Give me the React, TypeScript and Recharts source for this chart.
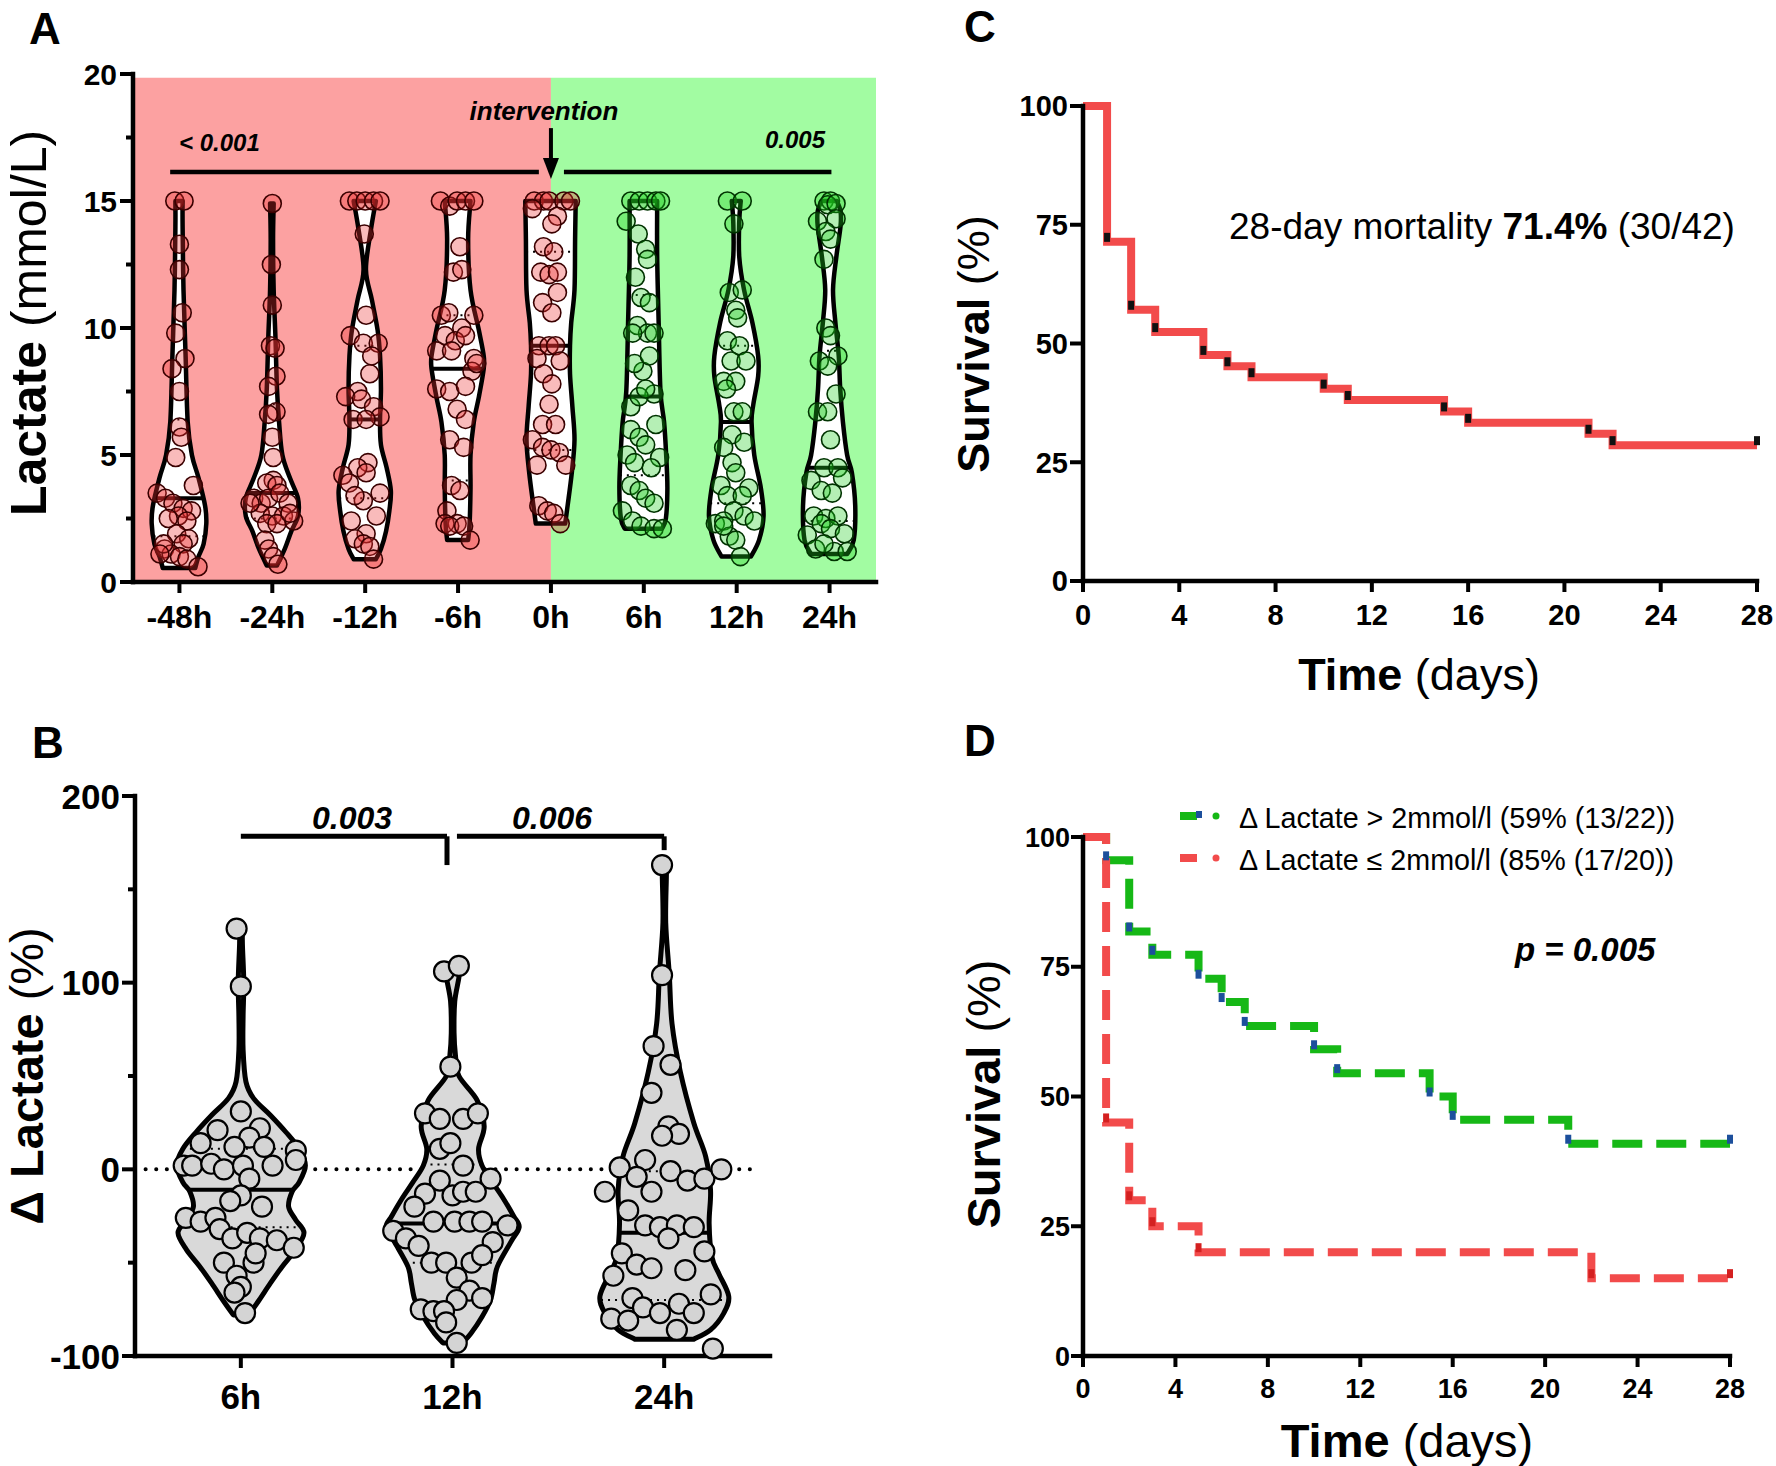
import React from 'react';
import {
  ComposedChart,
  Line,
  Bar,
  Scatter,
  XAxis,
  YAxis,
  ReferenceArea,
  ReferenceLine,
  ReferenceDot,
} from 'recharts';

const FONT = '"Liberation Sans", Arial, Helvetica, sans-serif';

// ---------------- Panel A data ----------------
const A_CATEGORIES = ['-48h', '-24h', '-12h', '-6h', '0h', '6h', '12h', '24h'];
const A_Y_TICKS = [0, 2.5, 5, 7.5, 10, 12.5, 15, 17.5, 20];
const A_Y_MAJOR = [0, 5, 10, 15, 20];
const A_MEDIAN = [3.3, 3.5, 6.4, 8.4, 9.3, 7.3, 6.3, 4.5];
const A_Q1 = [1.8, 2.5, 3.3, 4.0, 5.2, 4.2, 3.1, 2.4];
const A_Q3 = [6.4, 7.0, 9.3, 10.5, 13.0, 11.3, 9.3, 9.1];

// violin density profiles: [lactate value, relative half width]
const A_PROFILE_M48 = [[15, 0.12], [14, 0.12], [11.5, 0.15], [8.9, 0.22], [6.3, 0.29], [5.0, 0.43], [4.1, 0.65], [3.0, 0.87], [2.3, 0.91], [1.5, 0.82], [1.0, 0.65], [0.55, 0.54]];
const A_PROFILE_M24 = [[14.9, 0.06], [13.5, 0.04], [11.5, 0.06], [9.6, 0.12], [7.6, 0.17], [6.3, 0.24], [5.0, 0.35], [4.1, 0.6], [3.3, 0.87], [2.6, 0.87], [2.0, 0.65], [1.3, 0.43], [0.65, 0.17]];
const A_PROFILE_M12 = [[15, 0.37], [13.9, 0.21], [12.3, 0.04], [11.1, 0.24], [9.9, 0.43], [8.9, 0.51], [7.6, 0.54], [6.4, 0.51], [5.4, 0.54], [4.5, 0.73], [3.6, 0.87], [2.8, 0.82], [2.0, 0.71], [1.3, 0.54], [0.9, 0.37]];
const A_PROFILE_M6 = [[15, 0.43], [13.5, 0.35], [11.5, 0.43], [9.9, 0.71], [8.9, 0.87], [8.4, 0.87], [7.3, 0.71], [6.3, 0.54], [5.0, 0.43], [3.7, 0.43], [2.3, 0.4], [1.65, 0.35]];
const A_PROFILE_H0 = [[15, 0.84], [13.5, 0.82], [11.5, 0.8], [10.2, 0.69], [9.3, 0.65], [8.2, 0.65], [6.9, 0.73], [5.6, 0.8], [4.3, 0.71], [3.0, 0.57], [2.3, 0.49]];
const A_PROFILE_P6 = [[15, 0.46], [12.8, 0.46], [10.2, 0.51], [7.5, 0.57], [6.3, 0.69], [5.0, 0.76], [3.7, 0.8], [2.5, 0.75], [2.1, 0.62]];
const A_PROFILE_P12 = [[15, 0.15], [14.2, 0.1], [12.8, 0.1], [11.5, 0.26], [10.2, 0.54], [8.9, 0.73], [8.1, 0.73], [7.0, 0.57], [6.3, 0.51], [5.0, 0.6], [3.7, 0.82], [2.6, 0.91], [1.65, 0.76], [1.0, 0.49]];
const A_PROFILE_P24 = [[15, 0.26], [14.6, 0.38], [14.0, 0.38], [12.8, 0.24], [11.5, 0.13], [10.2, 0.21], [8.9, 0.32], [7.6, 0.37], [6.3, 0.46], [5.0, 0.6], [4.3, 0.76], [3.0, 0.87], [1.65, 0.82], [1.1, 0.6]];
const A_PROFILES = [A_PROFILE_M48, A_PROFILE_M24, A_PROFILE_M12, A_PROFILE_M6, A_PROFILE_H0, A_PROFILE_P6, A_PROFILE_P12, A_PROFILE_P24];

// individual points: [horizontal jitter (fraction of category), lactate]
const A_POINTS_M48 = [[-0.05, 15], [0.05, 15], [0, 13.3], [0, 12.3], [0.03, 10.6], [-0.04, 9.8], [0.06, 8.8], [-0.08, 8.4], [0, 7.5], [0, 6.1], [0.02, 5.7], [-0.04, 4.9], [0.15, 3.8], [-0.24, 3.5], [-0.15, 3.3], [-0.07, 3.1], [0.04, 2.9], [0.13, 2.8], [-0.01, 2.6], [-0.12, 2.5], [0.08, 2.4], [-0.03, 1.9], [0.1, 1.7], [0.04, 1.5], [-0.16, 1.3], [-0.09, 1.1], [0, 1.0], [0.08, 0.9], [0.2, 0.6], [-0.17, 1.5], [-0.21, 1.1]];
const A_POINTS_M24 = [[0, 14.9], [-0.01, 12.5], [0, 10.9], [-0.02, 9.3], [0.03, 9.2], [0.04, 8.1], [-0.04, 7.7], [0.04, 6.7], [-0.04, 6.6], [0, 5.7], [0.01, 4.9], [0.01, 4.0], [-0.06, 3.9], [0.05, 3.8], [-0.2, 3.3], [-0.12, 3.1], [-0.04, 3.3], [0.08, 3.5], [0.17, 3.1], [-0.13, 2.7], [0, 2.6], [0.12, 2.6], [0.23, 2.4], [-0.06, 2.3], [0.05, 2.3], [-0.08, 1.65], [-0.04, 1.3], [0.01, 1.0], [0.06, 0.7], [-0.24, 3.1], [0.19, 2.7]];
const A_POINTS_M12 = [[-0.17, 15], [-0.09, 15], [0, 15], [0.09, 15], [0.16, 15], [-0.01, 13.7], [0.01, 10.5], [-0.16, 9.7], [-0.02, 9.4], [0.14, 9.4], [0.07, 8.9], [0.05, 8.2], [-0.08, 7.5], [-0.21, 7.3], [-0.04, 7.2], [0.09, 6.9], [0.16, 6.5], [-0.13, 6.4], [0.01, 6.4], [0.03, 4.7], [-0.08, 4.5], [-0.24, 4.2], [0.01, 4.3], [-0.17, 3.9], [0.16, 3.5], [-0.02, 3.2], [-0.11, 3.4], [0.12, 2.6], [-0.15, 2.4], [0.01, 1.9], [-0.11, 1.7], [-0.02, 1.5], [0.05, 1.4], [0.09, 0.9]];
const A_POINTS_M6 = [[-0.19, 15], [-0.09, 14.8], [-0.01, 15], [0.08, 15], [0.17, 15], [0.02, 13.2], [-0.05, 12.2], [0.04, 12.3], [-0.18, 10.5], [-0.1, 10.6], [0.17, 10.5], [0.04, 10.0], [-0.14, 9.7], [-0.03, 9.5], [-0.23, 9.1], [0.08, 9.7], [-0.07, 9.1], [0.17, 8.8], [0.15, 8.3], [0.2, 8.6], [-0.23, 7.6], [-0.09, 7.5], [0.08, 7.7], [-0.01, 6.8], [0.08, 6.4], [-0.09, 5.6], [0.06, 5.3], [-0.07, 3.8], [0.02, 3.6], [-0.12, 2.8], [-0.01, 2.3], [-0.14, 2.3], [-0.09, 2.2], [0.06, 2.2], [0.13, 1.65]];
const A_POINTS_H0 = [[-0.18, 15], [-0.08, 15], [-0.02, 15], [0.14, 15], [0.21, 15], [-0.2, 14.7], [0.07, 14.4], [0.01, 14.1], [-0.08, 13.2], [0.03, 13.0], [-0.11, 12.2], [-0.02, 12.1], [0.07, 12.2], [0.07, 11.4], [-0.09, 11.0], [0.01, 10.6], [-0.13, 9.3], [-0.02, 9.3], [0.05, 9.3], [-0.15, 8.8], [0.1, 8.7], [-0.08, 8.2], [0.01, 7.8], [-0.02, 7.0], [-0.09, 6.2], [0.05, 6.2], [-0.2, 5.6], [-0.09, 5.3], [0, 5.2], [0.09, 5.1], [-0.15, 4.6], [0.16, 4.6], [-0.13, 3.0], [-0.04, 2.8], [0.03, 2.7], [0.1, 2.3]];
const A_POINTS_P6 = [[-0.14, 15], [-0.05, 15], [0.04, 15], [0.13, 15], [0.18, 15], [-0.19, 14.2], [-0.06, 13.7], [0.02, 13.1], [0.04, 12.7], [-0.09, 12.0], [-0.03, 11.2], [0.06, 11.0], [-0.07, 10.1], [0.04, 9.8], [0.11, 9.8], [-0.12, 9.8], [-0.01, 8.3], [-0.1, 8.6], [0.06, 8.9], [-0.14, 6.9], [0.11, 7.4], [-0.05, 7.3], [0.02, 7.6], [-0.14, 6.0], [-0.05, 5.7], [0.02, 5.4], [0.13, 6.2], [-0.18, 5.0], [-0.1, 4.7], [0.17, 4.9], [0.08, 4.5], [-0.14, 3.8], [-0.05, 3.6], [0.02, 3.3], [0.11, 3.1], [-0.23, 2.8], [-0.12, 2.4], [-0.03, 2.2], [0.11, 2.1], [0.2, 2.1]];
const A_POINTS_P12 = [[-0.1, 15], [0.06, 15], [-0.03, 14.1], [-0.08, 11.4], [0.06, 11.5], [-0.01, 10.7], [0.01, 10.4], [-0.1, 9.5], [0.03, 9.3], [-0.06, 8.7], [0.1, 8.7], [-0.14, 7.9], [-0.01, 7.9], [-0.11, 7.6], [-0.03, 6.7], [0.06, 6.7], [-0.05, 5.8], [0.08, 5.5], [-0.14, 5.3], [-0.05, 4.7], [-0.01, 4.3], [-0.17, 3.8], [0.13, 3.7], [-0.1, 3.4], [0.06, 3.4], [-0.03, 2.8], [0.08, 2.6], [0.19, 2.4], [-0.23, 2.3], [-0.14, 2.4], [-0.08, 1.8], [-0.01, 1.65], [-0.14, 2.2], [0.04, 1.0]];
const A_POINTS_P24 = [[-0.06, 15], [0.01, 15], [-0.02, 14.85], [0.07, 14.9], [-0.13, 14.2], [0.07, 14.3], [-0.04, 13.8], [0.01, 13.5], [-0.06, 12.7], [-0.04, 10.0], [0.01, 9.7], [-0.11, 8.7], [0.09, 8.9], [-0.02, 8.5], [0.07, 7.4], [-0.13, 6.7], [-0.02, 6.7], [0.01, 5.6], [-0.06, 4.5], [0.09, 4.5], [-0.2, 4.0], [-0.09, 3.6], [0.14, 4.1], [0.03, 3.5], [-0.17, 2.6], [-0.04, 2.5], [0.09, 2.6], [-0.09, 2.3], [0.01, 2.1], [-0.24, 1.85], [0.16, 1.9], [-0.15, 1.3], [0.05, 1.2], [0.19, 1.2], [-0.06, 1.5]];
const A_POINTS = [A_POINTS_M48, A_POINTS_M24, A_POINTS_M12, A_POINTS_M6, A_POINTS_H0, A_POINTS_P6, A_POINTS_P12, A_POINTS_P24];

// ---------------- Panel B data ----------------
const B_CATEGORIES = ['6h', '12h', '24h'];
const B_Y_TICKS = [-100, -50, 0, 50, 100, 150, 200];
const B_Y_MAJOR = [-100, 0, 100, 200];
const B_MEDIAN = [-11, -29, -34];
const B_Q1 = [-31, -50, -70];
const B_Q3 = [11, 2.6, -1];
const B_PROFILE_6 = [[131, 0.02], [121, 0.02], [100, 0.04], [82, 0.03], [64, 0.03], [47, 0.07], [38, 0.18], [29, 0.42], [20, 0.64], [11, 0.83], [2, 0.92], [-7, 0.83], [-12, 0.73], [-20, 0.68], [-27, 0.78], [-34, 0.9], [-43, 0.78], [-52, 0.59], [-61, 0.42], [-70, 0.26], [-78, 0.11]];
const B_PROFILE_12 = [[109, 0.09], [103, 0.09], [90, 0.03], [73, 0.02], [61, 0.04], [50, 0.09], [37, 0.35], [23, 0.45], [11, 0.37], [2, 0.42], [-7, 0.57], [-16, 0.73], [-25, 0.87], [-31, 0.95], [-39, 0.83], [-52, 0.64], [-61, 0.59], [-70, 0.54], [-79, 0.42], [-88, 0.26], [-93, 0.14]];
const B_PROFILE_24 = [[166, 0.02], [159, 0.03], [132, 0.02], [105, 0.07], [78, 0.11], [52, 0.23], [25, 0.42], [7, 0.59], [-11, 0.66], [-29, 0.64], [-47, 0.68], [-56, 0.78], [-68, 0.92], [-77, 0.85], [-86, 0.66], [-91, 0.42]];
const B_PROFILES = [B_PROFILE_6, B_PROFILE_12, B_PROFILE_24];
const B_POINTS_6 = [[-0.02, 129], [0, 98], [0, 31], [-0.11, 21], [0.09, 22], [0.04, 17], [-0.03, 12], [-0.19, 14], [0.11, 12], [0.26, 10], [-0.27, 2], [-0.23, 2], [-0.14, 3], [-0.08, 0], [0.01, 2], [0.15, 2], [0.26, 5], [0.04, -5], [0, -14], [-0.05, -17], [0.1, -20], [-0.26, -26], [-0.19, -28], [-0.12, -26], [-0.1, -32], [-0.04, -37], [0.03, -34], [0.09, -37], [0.17, -38], [0.25, -42], [-0.08, -50], [0.06, -50], [-0.02, -57], [0, -63], [-0.03, -66], [0.02, -77], [0.07, -45]];
const B_POINTS_12 = [[-0.04, 106], [0.03, 109], [-0.01, 55], [-0.13, 30], [-0.06, 27], [0.05, 27], [0.12, 30], [-0.06, 11], [-0.01, 14], [0.05, 2], [-0.06, -6], [0.18, -5], [-0.13, -13], [0, -14], [0.05, -12], [0.11, -12], [-0.18, -20], [-0.09, -28], [0.01, -28], [0.08, -28], [0.14, -28], [0.26, -30], [-0.28, -33], [-0.22, -37], [-0.16, -41], [0.19, -39], [-0.1, -50], [-0.03, -50], [0.09, -50], [0.14, -46], [0.02, -58], [0.08, -65], [0.14, -69], [0.02, -70], [-0.15, -75], [-0.09, -76], [-0.04, -76], [-0.03, -82], [0.02, -93]];
const B_POINTS_24 = [[-0.01, 163], [-0.01, 104], [-0.05, 66], [0.03, 56], [-0.06, 41], [0.02, 23], [0.07, 19], [-0.01, 18], [-0.09, 5], [-0.21, 1], [-0.13, -4], [0.03, -1], [0.11, -6], [0.19, -5], [0.27, 0], [-0.28, -12], [-0.06, -12], [-0.17, -22], [-0.09, -30], [-0.02, -31], [0.06, -30], [0.14, -31], [0.02, -37], [0.19, -44], [-0.2, -45], [-0.13, -51], [-0.06, -53], [0.1, -54], [-0.24, -57], [0.22, -67], [-0.15, -69], [-0.1, -74], [-0.02, -77], [0.07, -72], [0.14, -77], [-0.25, -80], [-0.17, -81], [0.06, -86], [0.23, -96]];
const B_POINTS = [B_POINTS_6, B_POINTS_12, B_POINTS_24];

// ---------------- Panel C data ----------------
const KM_X_TICKS = [0, 4, 8, 12, 16, 20, 24, 28];
const KM_Y_TICKS = [0, 25, 50, 75, 100];
const C_TIMES = [0, 1, 2, 3, 5, 6, 7, 10, 11, 15, 16, 21, 22, 28];
const C_SURVIVAL = [100, 71.4, 57.1, 52.4, 47.6, 45.2, 42.9, 40.5, 38.1, 35.7, 33.3, 31.0, 28.6, 28.6];

// ---------------- Panel D data ----------------
const D_HIGH_TIMES = [0, 1, 2, 3, 5, 6, 7, 10, 11, 15, 16, 21, 28];
const D_HIGH_SURVIVAL = [100, 95.5, 81.8, 77.3, 72.7, 68.2, 63.6, 59.1, 54.5, 50.0, 45.5, 40.9, 40.9];
const D_LOW_TIMES = [0, 1, 2, 3, 5, 22, 28];
const D_LOW_SURVIVAL = [100, 45, 30, 25, 20, 15, 15];
const D_LEGEND = ['\u0394 Lactate > 2mmol/l (59% (13/22))', '\u0394 Lactate \u2264 2mmol/l (85% (17/20))'];

// ---------------- helpers ----------------
const AXIS_LINE: any = { stroke: '#000', strokeWidth: 4.5, strokeLinecap: 'square' };
const RED = '#F24B4B';
const GREEN = '#16B816';

function curveThrough(pts: number[][]): string {
  let d = '';
  for (let i = 0; i < pts.length - 1; i++) {
    const p0 = pts[i - 1] || pts[i];
    const p1 = pts[i];
    const p2 = pts[i + 1];
    const p3 = pts[i + 2] || p2;
    const c1x = p1[0] + (p2[0] - p0[0]) / 6;
    const c1y = p1[1] + (p2[1] - p0[1]) / 6;
    const c2x = p2[0] - (p3[0] - p1[0]) / 6;
    const c2y = p2[1] - (p3[1] - p1[1]) / 6;
    d += ` C${c1x.toFixed(2)},${c1y.toFixed(2)} ${c2x.toFixed(2)},${c2y.toFixed(2)} ${p2[0].toFixed(2)},${p2[1].toFixed(2)}`;
  }
  return d;
}

function widthAt(profile: number[][], v: number): number {
  for (let i = 0; i < profile.length - 1; i++) {
    const [va, wa] = profile[i];
    const [vb, wb] = profile[i + 1];
    if (v <= va && v >= vb) {
      const t = va === vb ? 0 : (va - v) / (va - vb);
      return wa + (wb - wa) * t;
    }
  }
  return 0;
}

const makeViolin = (fill: string, strokeW: number) => (props: any) => {
  const { x, y, width, height, payload } = props;
  if (x == null || !payload || !payload.profile) return <g />;
  const top = Math.min(y, y + height);
  const h = Math.abs(height);
  const [vmin, vmax] = payload.range;
  const cx = x + width / 2;
  const unit = width / 2;
  const py = (v: number) => top + ((vmax - v) / (vmax - vmin)) * h;
  const prof: number[][] = payload.profile;
  const left = prof.map(([v, w]) => [cx - w * unit, py(v)]);
  const right = prof.map(([v, w]) => [cx + w * unit, py(v)]).reverse();
  const d = `M${left[0][0]},${left[0][1]}${curveThrough(left)} L${right[0][0]},${right[0][1]}${curveThrough(right)} Z`;
  const seg = (v: number) => {
    const w = widthAt(prof, v) * unit;
    return { x1: cx - w, x2: cx + w, y1: py(v), y2: py(v) };
  };
  return (
    <g>
      <path d={d} fill={fill} stroke="#000" strokeWidth={strokeW} strokeLinejoin="round" />
      <line {...seg(payload.q1)} stroke="#000" strokeWidth={2} strokeDasharray="2 5" />
      <line {...seg(payload.q3)} stroke="#000" strokeWidth={2} strokeDasharray="2 5" />
      <line {...seg(payload.median)} stroke="#000" strokeWidth={4} />
    </g>
  );
};

const makeYTick = (majors: number[], fontSize: number, majorLen: number, minorLen: number, gap: number) => (props: any) => {
  const { x, y, payload } = props;
  const v = payload.value;
  const major = majors.indexOf(v) >= 0;
  return (
    <g>
      <line x1={x - (major ? majorLen : minorLen)} x2={x} y1={y} y2={y} stroke="#000" strokeWidth={4} />
      {major ? (
        <text x={x - gap} y={y} dy="0.36em" textAnchor="end" fontFamily={FONT} fontWeight={700} fontSize={fontSize} fill="#000">
          {String(v)}
        </text>
      ) : null}
    </g>
  );
};

const makeXTick = (label: (v: number) => string, fontSize: number, len: number, dy: number) => (props: any) => {
  const { x, y, payload } = props;
  return (
    <g>
      <line x1={x} x2={x} y1={y} y2={y + len} stroke="#000" strokeWidth={4} />
      <text x={x} y={y + dy} textAnchor="middle" fontFamily={FONT} fontWeight={700} fontSize={fontSize} fill="#000">
        {label(payload.value)}
      </text>
    </g>
  );
};

const makeDot = (r: number, fill: string, stroke: string, sw: number) => (props: any) => {
  if (props.cx == null) return <g />;
  return <circle cx={props.cx} cy={props.cy} r={r} fill={fill} stroke={stroke} strokeWidth={sw} />;
};

const makeMark = (fill: string) => (props: any) => {
  if (props.cx == null) return <g />;
  return <rect x={props.cx - 3} y={props.cy - 9} width={6} height={9} fill={fill} />;
};

const ArrowHead = (props: any) => {
  const { cx, cy } = props;
  if (cx == null) return <g />;
  return <polygon points={`${cx - 8},${cy - 21} ${cx + 8},${cy - 21} ${cx},${cy}`} fill="#000" />;
};

// ---------------- derived rows ----------------
const aRows = A_CATEGORIES.map((name, i) => ({
  name,
  range: [A_PROFILES[i][A_PROFILES[i].length - 1][0], A_PROFILES[i][0][0]],
  profile: A_PROFILES[i],
  median: A_MEDIAN[i],
  q1: A_Q1[i],
  q3: A_Q3[i],
}));
const bRows = B_CATEGORIES.map((name, i) => ({
  name,
  range: [B_PROFILES[i][B_PROFILES[i].length - 1][0], B_PROFILES[i][0][0]],
  profile: B_PROFILES[i],
  median: B_MEDIAN[i],
  q1: B_Q1[i],
  q3: B_Q3[i],
}));
const toPts = (arr: number[][], i: number) => arr.map(([dx, v]) => ({ x: i + dx, y: v }));
const km = (times: number[], surv: number[]) => times.map((t, i) => ({ t, s: surv[i] }));
const kmMarks = (times: number[], surv: number[]) => times.slice(1).map((t, i) => ({ t, s: surv[i + 1] }));

const violinA = makeViolin('#ffffff', 4.5);
const violinB = makeViolin('#d9d9d9', 5);
const dotRed = makeDot(9, 'rgba(236,50,50,0.33)', '#3a0000', 1.6);
const dotGreen = makeDot(9, 'rgba(30,205,30,0.33)', '#003300', 1.6);
const dotGray = makeDot(10, '#d4d4d4', '#000', 2.2);

function PanelA() {
  return (
    <ComposedChart width={900} height={650} data={aRows} margin={{ top: 74, right: 24, bottom: 8, left: 63 }}>
      <XAxis
        xAxisId="num"
        dataKey="x"
        type="number"
        domain={[-0.5, 7.5]}
        ticks={[0, 1, 2, 3, 4, 5, 6, 7]}
        interval={0}
        height={60}
        tickSize={0}
        tickMargin={0}
        tickLine={false}
        axisLine={AXIS_LINE}
        tick={makeXTick((v) => A_CATEGORIES[v] ?? '', 32, 11, 46)}
      />
      <XAxis xAxisId="cat" dataKey="name" type="category" hide height={0} />
      <YAxis
        dataKey="y"
        type="number"
        domain={[0, 20]}
        ticks={A_Y_TICKS}
        interval={0}
        width={70}
        tickSize={0}
        tickMargin={0}
        tickLine={false}
        axisLine={AXIS_LINE}
        tick={makeYTick(A_Y_MAJOR, 30, 13, 7, 16)}
      />
      <ReferenceArea xAxisId="num" x1={-0.5} x2={4} y1={0} y2={19.85} fill="#fca1a1" fillOpacity={1} stroke="none" zIndex={-10} />
      <ReferenceArea xAxisId="num" x1={4} x2={7.5} y1={0} y2={19.85} fill="#a2fca2" fillOpacity={1} stroke="none" zIndex={-10} />
      <Bar xAxisId="cat" dataKey="range" barSize={60} shape={violinA} isAnimationActive={false} />
      {A_POINTS.map((pts, i) => (
        <Scatter
          key={i}
          xAxisId="num"
          data={toPts(pts, i)}
          dataKey="y"
          shape={i <= 4 ? dotRed : dotGreen}
          isAnimationActive={false}
        />
      ))}
      <ReferenceLine xAxisId="num" segment={[{ x: -0.1, y: 16.14 }, { x: 3.87, y: 16.14 }]} stroke="#000" strokeWidth={4.5} />
      <ReferenceLine xAxisId="num" segment={[{ x: 4.14, y: 16.14 }, { x: 7.02, y: 16.14 }]} stroke="#000" strokeWidth={4.5} />
      <ReferenceLine xAxisId="num" segment={[{ x: 4, y: 17.87 }, { x: 4, y: 16.5 }]} stroke="#000" strokeWidth={4} />
      <ReferenceDot xAxisId="num" x={4} y={15.87} r={1} shape={ArrowHead} />
    </ComposedChart>
  );
}

function PanelB() {
  return (
    <ComposedChart width={900} height={766} data={bRows} margin={{ top: 96, right: 130, bottom: 50, left: 65 }}>
      <XAxis
        xAxisId="num"
        dataKey="x"
        type="number"
        domain={[-0.5, 2.5]}
        ticks={[0, 1, 2]}
        interval={0}
        height={60}
        tickSize={0}
        tickMargin={0}
        tickLine={false}
        axisLine={AXIS_LINE}
        tick={makeXTick((v) => B_CATEGORIES[v] ?? '', 35, 12, 53)}
      />
      <XAxis xAxisId="cat" dataKey="name" type="category" hide height={0} />
      <YAxis
        dataKey="y"
        type="number"
        domain={[-100, 200]}
        ticks={B_Y_TICKS}
        interval={0}
        width={70}
        tickSize={0}
        tickMargin={0}
        tickLine={false}
        axisLine={AXIS_LINE}
        tick={makeYTick(B_Y_MAJOR, 35, 13, 7, 15)}
      />
      <ReferenceLine
        xAxisId="num"
        segment={[{ x: -0.45, y: 0 }, { x: 2.45, y: 0 }]}
        stroke="#000"
        strokeWidth={4}
        strokeDasharray="0.1 10.5"
        strokeLinecap="round"
        zIndex={-10}
      />
      <Bar xAxisId="cat" dataKey="range" barSize={140} shape={violinB} isAnimationActive={false} />
      {B_POINTS.map((pts, i) => (
        <Scatter key={i} xAxisId="num" data={toPts(pts, i)} dataKey="y" shape={dotGray} isAnimationActive={false} />
      ))}
      <ReferenceLine xAxisId="num" segment={[{ x: 0, y: 178.4 }, { x: 0.974, y: 178.4 }]} stroke="#000" strokeWidth={5} />
      <ReferenceLine xAxisId="num" segment={[{ x: 0.974, y: 178.4 }, { x: 0.974, y: 163 }]} stroke="#000" strokeWidth={5} />
      <ReferenceLine xAxisId="num" segment={[{ x: 1.021, y: 178.4 }, { x: 2, y: 178.4 }]} stroke="#000" strokeWidth={5} />
      <ReferenceLine xAxisId="num" segment={[{ x: 2, y: 178.4 }, { x: 2, y: 171 }]} stroke="#000" strokeWidth={5} />
    </ComposedChart>
  );
}

function PanelC() {
  return (
    <ComposedChart width={876} height={700} margin={{ top: 106, right: 19, bottom: 59, left: 113 }}>
      <XAxis
        dataKey="t"
        type="number"
        domain={[0, 28]}
        ticks={KM_X_TICKS}
        interval={0}
        height={60}
        tickSize={0}
        tickMargin={0}
        tickLine={false}
        axisLine={AXIS_LINE}
        tick={makeXTick((v) => String(v), 29, 11, 44)}
      />
      <YAxis
        dataKey="s"
        type="number"
        domain={[0, 100]}
        ticks={KM_Y_TICKS}
        interval={0}
        width={70}
        tickSize={0}
        tickMargin={0}
        tickLine={false}
        axisLine={AXIS_LINE}
        tick={makeYTick(KM_Y_TICKS, 29, 13, 13, 15)}
      />
      <Line
        data={km(C_TIMES, C_SURVIVAL)}
        dataKey="s"
        type="stepAfter"
        stroke={RED}
        strokeWidth={8}
        dot={false}
        activeDot={false}
        isAnimationActive={false}
      />
      <Scatter data={kmMarks(C_TIMES, C_SURVIVAL)} dataKey="s" shape={makeMark('#111')} isAnimationActive={false} />
    </ComposedChart>
  );
}

function PanelD() {
  return (
    <ComposedChart width={876} height={766} margin={{ top: 137, right: 46, bottom: 50, left: 113 }}>
      <XAxis
        dataKey="t"
        type="number"
        domain={[0, 28]}
        ticks={KM_X_TICKS}
        interval={0}
        height={60}
        tickSize={0}
        tickMargin={0}
        tickLine={false}
        axisLine={AXIS_LINE}
        tick={makeXTick((v) => String(v), 27, 11, 42)}
      />
      <YAxis
        dataKey="s"
        type="number"
        domain={[0, 100]}
        ticks={KM_Y_TICKS}
        interval={0}
        width={70}
        tickSize={0}
        tickMargin={0}
        tickLine={false}
        axisLine={AXIS_LINE}
        tick={makeYTick(KM_Y_TICKS, 27, 12, 12, 13)}
      />
      <Line
        data={km(D_HIGH_TIMES, D_HIGH_SURVIVAL)}
        dataKey="s"
        type="stepAfter"
        stroke={GREEN}
        strokeWidth={8}
        strokeDasharray="30 14"
        dot={false}
        activeDot={false}
        isAnimationActive={false}
      />
      <Line
        data={km(D_LOW_TIMES, D_LOW_SURVIVAL)}
        dataKey="s"
        type="stepAfter"
        stroke={RED}
        strokeWidth={8}
        strokeDasharray="30 14"
        dot={false}
        activeDot={false}
        isAnimationActive={false}
      />
      <Scatter data={kmMarks(D_HIGH_TIMES, D_HIGH_SURVIVAL)} dataKey="s" shape={makeMark('#1c4f9c')} isAnimationActive={false} />
      <Scatter data={kmMarks(D_LOW_TIMES, D_LOW_SURVIVAL)} dataKey="s" shape={makeMark('#d42020')} isAnimationActive={false} />
    </ComposedChart>
  );
}

function Overlay() {
  const bold = { fontWeight: 700 } as const;
  return (
    <svg width={1776} height={1466} style={{ position: 'absolute', left: 0, top: 0, pointerEvents: 'none' }} fontFamily={FONT} fill="#000">
      <text x={29} y={44} fontSize={44} {...bold}>A</text>
      <text x={32} y={758} fontSize={44} {...bold}>B</text>
      <text x={964} y={42} fontSize={44} {...bold}>C</text>
      <text x={964} y={756} fontSize={44} {...bold}>D</text>

      <text transform="translate(46,323) rotate(-90)" textAnchor="middle" fontSize={50}>
        <tspan fontWeight={700}>Lactate</tspan>
        <tspan>{' (mmol/L)'}</tspan>
      </text>
      <text transform="translate(43,1076) rotate(-90)" textAnchor="middle" fontSize={47}>
        <tspan fontWeight={700}>{'\u0394 Lactate'}</tspan>
        <tspan>{' (%)'}</tspan>
      </text>
      <text transform="translate(989,344) rotate(-90)" textAnchor="middle" fontSize={45}>
        <tspan fontWeight={700}>Survival</tspan>
        <tspan>{' (%)'}</tspan>
      </text>
      <text transform="translate(1000,1094) rotate(-90)" textAnchor="middle" fontSize={47}>
        <tspan fontWeight={700}>Survival</tspan>
        <tspan>{' (%)'}</tspan>
      </text>
      <text x={1419} y={690} textAnchor="middle" fontSize={45}>
        <tspan fontWeight={700}>Time</tspan>
        <tspan>{' (days)'}</tspan>
      </text>
      <text x={1407} y={1457} textAnchor="middle" fontSize={47}>
        <tspan fontWeight={700}>Time</tspan>
        <tspan>{' (days)'}</tspan>
      </text>

      <text x={544} y={120} textAnchor="middle" fontSize={26} fontWeight={700} fontStyle="italic">intervention</text>
      <text x={179} y={151} fontSize={24} fontWeight={700} fontStyle="italic">{'< 0.001'}</text>
      <text x={765} y={148} fontSize={24} fontWeight={700} fontStyle="italic">0.005</text>
      <text x={352} y={829} textAnchor="middle" fontSize={32} fontWeight={700} fontStyle="italic">0.003</text>
      <text x={552} y={829} textAnchor="middle" fontSize={32} fontWeight={700} fontStyle="italic">0.006</text>

      <text x={1229} y={239} fontSize={37}>
        <tspan>{'28-day mortality '}</tspan>
        <tspan fontWeight={700}>71.4%</tspan>
        <tspan>{' (30/42)'}</tspan>
      </text>
      <text x={1515} y={961} fontSize={33} fontWeight={700} fontStyle="italic">p = 0.005</text>

      <line x1={1180} x2={1197} y1={816} y2={816} stroke={GREEN} strokeWidth={8} />
      <rect x={1196} y={811} width={6} height={7} fill="#1c4f9c" />
      <circle cx={1216} cy={816} r={3.5} fill={GREEN} />
      <text x={1239} y={828} fontSize={28.7}>{D_LEGEND[0]}</text>
      <line x1={1180} x2={1197} y1={858} y2={858} stroke={RED} strokeWidth={8} />
      <circle cx={1216} cy={858} r={3.5} fill={RED} />
      <text x={1239} y={870} fontSize={28.7}>{D_LEGEND[1]}</text>
    </svg>
  );
}

export default function App() {
  return (
    <div style={{ position: 'absolute', left: 0, top: 0, width: 1776, height: 1466, background: '#fff', overflow: 'hidden' }}>
      <div style={{ position: 'absolute', left: 0, top: 0 }}>
        <PanelA />
      </div>
      <div style={{ position: 'absolute', left: 0, top: 700 }}>
        <PanelB />
      </div>
      <div style={{ position: 'absolute', left: 900, top: 0 }}>
        <PanelC />
      </div>
      <div style={{ position: 'absolute', left: 900, top: 700 }}>
        <PanelD />
      </div>
      <Overlay />
    </div>
  );
}
